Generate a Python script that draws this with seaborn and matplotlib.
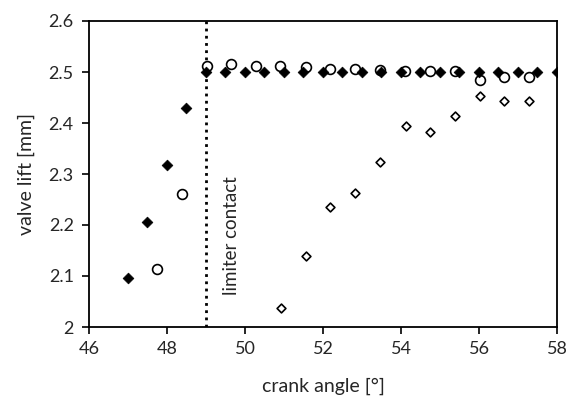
import matplotlib
matplotlib.use("Agg")
import matplotlib.pyplot as plt
import matplotlib.ticker as mticker
import pandas as pd
import seaborn as sns

# filled diamonds
filled_x = [47.0, 47.5, 48.0, 48.5, 49.0, 49.5, 50.0, 50.5, 51.0, 51.5, 52.0, 52.5,
            53.0, 53.5, 54.0, 54.5, 55.0, 55.5, 56.0, 56.5, 57.0, 57.5, 58.0]
filled_y = [2.097, 2.206, 2.317, 2.430, 2.500, 2.500, 2.500, 2.500, 2.500, 2.500, 2.500, 2.500,
            2.500, 2.500, 2.500, 2.500, 2.500, 2.500, 2.500, 2.500, 2.500, 2.500, 2.500]

# open circles
circle_x = [47.74, 48.38, 49.02, 49.64, 50.27, 50.91, 51.56, 52.18, 52.82, 53.46,
            54.10, 54.74, 55.38, 56.03, 56.64, 57.29]
circle_y = [2.113, 2.261, 2.512, 2.515, 2.512, 2.512, 2.510, 2.506, 2.506, 2.504,
            2.502, 2.502, 2.502, 2.484, 2.490, 2.490]

# open diamonds
open_x = [50.92, 51.56, 52.18, 52.82, 53.46, 54.12, 54.74, 55.38, 56.03, 56.64, 57.29]
open_y = [2.037, 2.140, 2.235, 2.263, 2.323, 2.395, 2.382, 2.414, 2.452, 2.444, 2.444]

limiter_angle = 49.0

sns.set_style("ticks")
plt.rcParams['font.family'] = ['Lato', 'DejaVu Sans']

fig = plt.figure(figsize=(5.76, 4.0), dpi=100)
ax = fig.add_axes([0.1545, 0.1825, 0.8125, 0.765])

df_open = pd.DataFrame({"x": open_x, "y": open_y})
df_circle = pd.DataFrame({"x": circle_x, "y": circle_y})
df_filled = pd.DataFrame({"x": filled_x, "y": filled_y})

sns.scatterplot(data=df_open, x="x", y="y", marker="D", s=20, facecolor="white",
                edgecolor="black", linewidth=1.2, ax=ax, zorder=3)
sns.scatterplot(data=df_circle, x="x", y="y", marker="o", s=50, facecolor="white",
                edgecolor="black", linewidth=1.2, ax=ax, zorder=3)
sns.scatterplot(data=df_filled, x="x", y="y", marker="D", s=30, color="black",
                edgecolor="black", linewidth=0.5, ax=ax, zorder=4)

ax.axvline(limiter_angle, color="black", linestyle=(0, (1, 1.6)), linewidth=2, zorder=2)
ax.text(49.66, 2.18, "limiter contact", rotation=90, ha="center", va="center", fontsize=13.5)

ax.set_xlim(46, 58)
ax.set_ylim(2.0, 2.6)
ax.set_xticks([46, 48, 50, 52, 54, 56, 58])
ax.set_yticks([2.0, 2.1, 2.2, 2.3, 2.4, 2.5, 2.6])
ax.yaxis.set_major_formatter(mticker.FuncFormatter(lambda v, p: "{:g}".format(round(v, 2))))
ax.set_xlabel("crank angle [°]", fontsize=14, labelpad=15)
ax.set_ylabel("valve lift [mm]", fontsize=14, labelpad=10)
ax.tick_params(axis="both", labelsize=13, direction="out", length=5, width=1.2, color="black")
ax.tick_params(axis="x", pad=5)
ax.tick_params(axis="y", pad=6)
for sp in ax.spines.values():
    sp.set_color("black")
    sp.set_linewidth(1.3)

fig.savefig("out.png", dpi=100)
